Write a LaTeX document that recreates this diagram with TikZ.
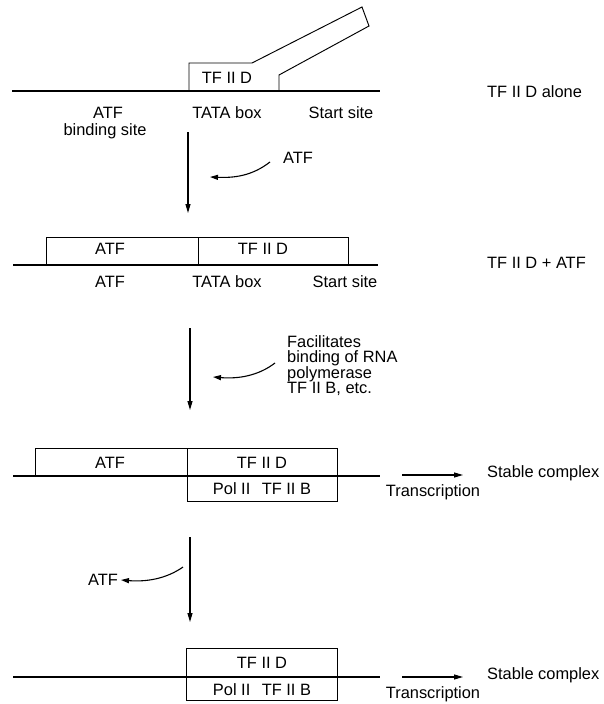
\documentclass[tikz,border=0pt]{standalone}
\usepackage{fontspec}
\setmainfont{Liberation Sans}
\usetikzlibrary{arrows.meta}
\begin{document}
\begin{tikzpicture}[x=1pt,y=-1pt,
  lbl/.style={inner sep=0pt,text height=11.5pt,text depth=0pt,font=\fontsize{16.4}{16}\selectfont},
  dna/.style={line width=2pt},
  boxl/.style={line width=0.95pt},
  arr/.style={line width=1.1pt,-{Triangle[length=9pt,width=5pt]}},
  carr/.style={line width=1.1pt,-{Triangle[length=8pt,width=5pt]}}]
\useasboundingbox (0,0) rectangle (604,704);

% ---------- Panel 1 ----------
\coordinate (d1a) at (12,91); \coordinate (d1b) at (380,91);
\draw[dna] (d1a) -- (d1b);
\draw[boxl] (189,90) -- (189,63) -- (252,63) -- (362,7) -- (369,26) -- (279,75) -- (279,90);
\node[lbl] (tfd1) at (227,78) {TF II D};
\node[lbl] (atf1) at (108,113) {ATF};
\node[lbl] (bs1) at (105,130) {binding site};
\node[lbl] (tata1) at (227,113) {TATA box};
\node[lbl] (ss1) at (341,113) {Start site};
\node[lbl,anchor=west] (r1) at (487,92) {TF II D alone};

% arrow 1
\coordinate (a1s) at (188,132); \coordinate (a1e) at (188,213);
\draw[arr] (a1s) -- (a1e);
\coordinate (c1s) at (270,162); \coordinate (c1e) at (210,177);
\draw[carr] (c1s) .. controls (252,176) and (234,178) .. (c1e);
\node[lbl] (atfin) at (298,158) {ATF};

% ---------- Panel 2 ----------
\coordinate (d2a) at (13,265); \coordinate (d2b) at (378,265);
\draw[dna] (d2a) -- (d2b);
\draw[boxl] (46,264) -- (46,237) -- (348,237) -- (348,264);
\draw[boxl] (198,237) -- (198,264);
\node[lbl] (atfb2) at (110,249) {ATF};
\node[lbl] (tfd2) at (263,249) {TF II D};
\node[lbl] (atf2) at (110,282) {ATF};
\node[lbl] (tata2) at (227,282) {TATA box};
\node[lbl] (ss2) at (345,282) {Start site};
\node[lbl,anchor=west] (r2) at (487,263) {TF II D + ATF};

% arrow 2
\coordinate (a2s) at (190,328); \coordinate (a2e) at (190,410);
\draw[arr] (a2s) -- (a2e);
\coordinate (c2s) at (275,363); \coordinate (c2e) at (213,377);
\draw[carr] (c2s) .. controls (258,376) and (238,379) .. (c2e);
\node[lbl,anchor=west] (fac1) at (287,342) {Facilitates};
\node[lbl,anchor=west] (fac2) at (287,357.2) {binding of RNA};
\node[lbl,anchor=west] (fac3) at (287,372.4) {polymerase};
\node[lbl,anchor=west] (fac4) at (287,387.6) {TF II B, etc.};

% ---------- Panel 3 ----------
\coordinate (d3a) at (13,476); \coordinate (d3b) at (380,476);
\draw[dna] (d3a) -- (d3b);
\draw[boxl] (35,475) -- (35,448) -- (337,448) -- (337,501) -- (187,501) -- (187,448);
\node[lbl] (atfb3) at (110,463) {ATF};
\node[lbl] (tfd3) at (262,463) {TF II D};
\node[lbl] (pol3) at (262,489) {Pol II\hspace{0.7em}TF II B};
\coordinate (t3s) at (402,475); \coordinate (t3e) at (463,475);
\draw[arr] (t3s) -- (t3e);
\node[lbl,anchor=west] (sc3) at (487,472) {Stable complex};
\node[lbl] (tr3) at (433,491) {Transcription};

% arrow 3
\coordinate (a3s) at (190,537); \coordinate (a3e) at (190,622);
\draw[arr] (a3s) -- (a3e);
\coordinate (c3s) at (183,567); \coordinate (c3e) at (121,580);
\draw[carr] (c3s) .. controls (166,579) and (146,582) .. (c3e);
\node[lbl,anchor=east] (atfout) at (118,580) {ATF};

% ---------- Panel 5 ----------
\coordinate (d5a) at (13,677); \coordinate (d5b) at (380,677);
\draw[dna] (d5a) -- (d5b);
\draw[boxl] (186,648) rectangle (337,700);
\node[lbl] (tfd5) at (262,663) {TF II D};
\node[lbl] (pol5) at (262,690) {Pol II\hspace{0.7em}TF II B};
\coordinate (t5s) at (402,677); \coordinate (t5e) at (463,677);
\draw[arr] (t5s) -- (t5e);
\node[lbl,anchor=west] (sc5) at (487,674) {Stable complex};
\node[lbl] (tr5) at (433,693) {Transcription};
\end{tikzpicture}
\end{document}
